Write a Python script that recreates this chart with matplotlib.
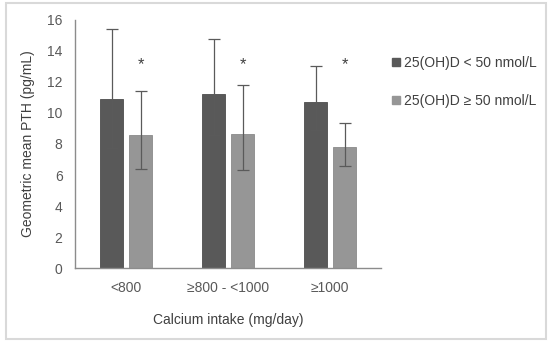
import numpy as np
import matplotlib
matplotlib.use("Agg")
from matplotlib import pyplot as plt
from matplotlib.patches import Rectangle, Patch

plt.rcParams["font.family"] = ["Liberation Sans", "DejaVu Sans"]

categories = ["<800", "≥800 - <1000", "≥1000"]
low_vitd = [10.9, 11.25, 10.7]
high_vitd = [8.6, 8.65, 7.8]
low_err_lo = [7.75, 8.55, 8.9]
low_err_hi = [15.4, 14.8, 13.0]
high_err_lo = [6.4, 6.35, 6.55]
high_err_hi = [11.45, 11.8, 9.35]
star_y = [13.1, 13.1, 13.1]
labels = ["25(OH)D < 50 nmol/L", "25(OH)D ≥ 50 nmol/L"]

dark = "#595959"
light = "#969696"

fig = plt.figure(figsize=(5.5, 3.44), dpi=100)
ax = fig.add_axes([0.1364, 0.2209, 0.5564, 0.721])

x = np.arange(len(categories))
w = 0.22
off = 0.142

low_yerr = [np.array(low_vitd) - np.array(low_err_lo), np.array(low_err_hi) - np.array(low_vitd)]
high_yerr = [np.array(high_vitd) - np.array(high_err_lo), np.array(high_err_hi) - np.array(high_vitd)]

ax.bar(x - off, low_vitd, w, color=dark, edgecolor="#4d4d4d", linewidth=0.6,
       yerr=low_yerr, ecolor="#5a5a5a", error_kw=dict(elinewidth=0.9, capsize=4, capthick=0.9))
ax.bar(x + off, high_vitd, w, color=light, edgecolor="#8a8a8a", linewidth=0.6,
       yerr=high_yerr, ecolor="#5a5a5a", error_kw=dict(elinewidth=0.9, capsize=4, capthick=0.9))

for xi, sy in zip(x, star_y):
    ax.text(xi + off, sy, "*", ha="center", va="center", fontsize=12, color="#404040")

ax.set_xlim(-0.5, 2.5)
ax.set_ylim(0, 16)
ax.set_yticks(range(0, 17, 2))
ax.set_xticks(x)
ax.set_xticklabels(categories)
ax.tick_params(length=0, labelsize=10, labelcolor="#595959", pad=9)
ax.tick_params(axis="y", pad=9)

for s in ["top", "right"]:
    ax.spines[s].set_visible(False)
for s in ["left", "bottom"]:
    ax.spines[s].set_color("#8c8c8c")
    ax.spines[s].set_linewidth(1.0)

ax.set_xlabel("Calcium intake (mg/day)", fontsize=10, color="#404040", labelpad=13)
ax.set_ylabel("Geometric mean PTH (pg/mL)", fontsize=10, color="#404040", labelpad=9)

handles = [Patch(facecolor=dark, edgecolor=dark), Patch(facecolor=light, edgecolor=light)]
fig.legend(handles, labels, loc="upper left", bbox_to_anchor=(0.69, 0.874), frameon=False,
           fontsize=10, handlelength=0.55, handleheight=0.55, handletextpad=0.3,
           labelspacing=1.75, labelcolor="#404040")

fig.add_artist(Rectangle((6 / 550, 5 / 344), 540 / 550, 336 / 344, transform=fig.transFigure,
                         fill=False, edgecolor="#d9d9d9", linewidth=1.5))

fig.savefig("out.png", dpi=100)
